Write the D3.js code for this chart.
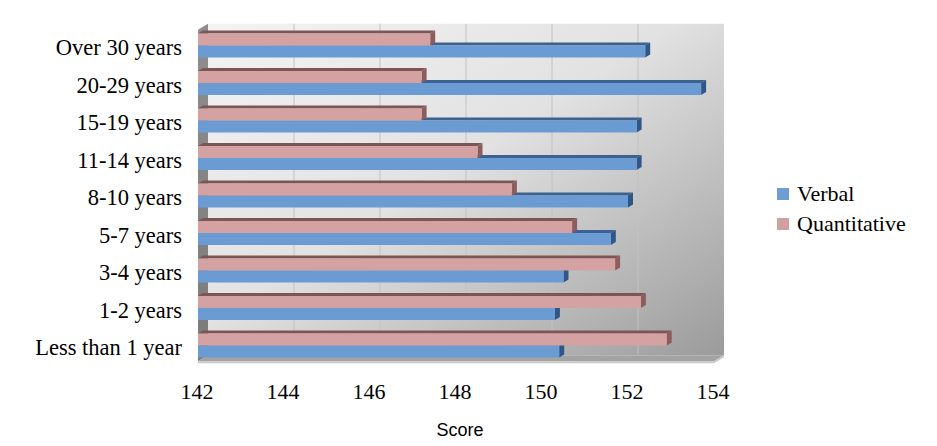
<!DOCTYPE html>
<html>
<head>
<meta charset="utf-8">
<script src="https://cdn.jsdelivr.net/npm/d3@7"></script>
<style>
  body { margin: 0; background: #fff; }
  svg { display: block; }
</style>
</head>
<body>
<div id="chart"></div>
<script>
// data, top row first
const categories = ["Over 30 years", "20-29 years", "15-19 years", "11-14 years", "8-10 years",
                    "5-7 years", "3-4 years", "1-2 years", "Less than 1 year"]
const verbal       = [152.4, 153.7, 152.2, 152.2, 152.0, 151.6, 150.5, 150.3, 150.4]
const quantitative = [147.4, 147.2, 147.2, 148.5, 149.3, 150.7, 151.7, 152.3, 152.9]
const seriesNames = ["Quantitative", "Verbal"]   // drawn order inside a row (top to bottom)
const legendNames = ["Verbal", "Quantitative"]
const xTicks = [142, 144, 146, 148, 150, 152, 154]
const xTitle = "Score"

const WIDTH = 937
const HEIGHT = 446
const SERIF = "'Liberation Serif', 'Times New Roman', serif"
const SANS = "'Liberation Sans', Arial, sans-serif"

// 3d offsets
const WALL_DX = 10, WALL_DY = -6
const BAR_DX = 5, BAR_DY = -3

const colors = {
  Verbal:       { front: "#6b9bd3", top: "#3d6190", side: "#2f5686", legend: "#6d9dd3" },
  Quantitative: { front: "#d4a2a2", top: "#7c5555", side: "#8d5c5c", legend: "#d0a0a0" }
}

const svg = d3.select("#chart").append("svg")
  .attr("width", WIDTH)
  .attr("height", HEIGHT)

const x = d3.scaleLinear().domain([142, 154]).range([198, 714])
const y = d3.scaleBand().domain(categories).range([29.75, 361.25])
  .paddingInner(0.36).paddingOuter(0.1)
const ySub = d3.scaleBand().domain(seriesNames).range([0, y.bandwidth()])

const plotTop = y.range()[0], plotBottom = y.range()[1]

const defs = svg.append("defs")
const wallGrad = defs.append("linearGradient").attr("id", "wallGrad")
  .attr("x1", 0).attr("y1", 0).attr("x2", 1).attr("y2", 1)
wallGrad.append("stop").attr("offset", 0).attr("stop-color", "#f3f3f3")
wallGrad.append("stop").attr("offset", 0.45).attr("stop-color", "#e2e2e2")
wallGrad.append("stop").attr("offset", 1).attr("stop-color", "#9b9b9b")

const sideGrad = defs.append("linearGradient").attr("id", "sideGrad")
  .attr("x1", 0).attr("y1", 0).attr("x2", 0).attr("y2", 1)
sideGrad.append("stop").attr("offset", 0).attr("stop-color", "#8e8e8e")
sideGrad.append("stop").attr("offset", 1).attr("stop-color", "#7a7a7a")

const poly = pts => pts.map(p => p.join(",")).join(" ")

// back wall
const x0 = x.range()[0], x1 = x.range()[1]
svg.append("polygon")
  .attr("points", poly([[x0 + WALL_DX, plotTop + WALL_DY], [x1 + WALL_DX, plotTop + WALL_DY],
                        [x1 + WALL_DX, plotBottom + WALL_DY], [x0 + WALL_DX, plotBottom + WALL_DY]]))
  .attr("fill", "url(#wallGrad)")

// gridlines on back wall
svg.append("g")
  .selectAll("line")
  .data(xTicks.slice(1, -1))
  .join("line")
    .attr("x1", d => x(d) + WALL_DX)
    .attr("x2", d => x(d) + WALL_DX)
    .attr("y1", plotTop + WALL_DY)
    .attr("y2", plotBottom + WALL_DY)
    .attr("stroke", "#c2c2c2")
    .attr("stroke-width", 1)

// left side wall
svg.append("polygon")
  .attr("points", poly([[x0, plotTop], [x0 + WALL_DX, plotTop + WALL_DY],
                        [x0 + WALL_DX, plotBottom + WALL_DY], [x0, plotBottom]]))
  .attr("fill", "url(#sideGrad)")

// floor
svg.append("polygon")
  .attr("points", poly([[x0, plotBottom], [x0 + WALL_DX, plotBottom + WALL_DY],
                        [x1 + WALL_DX, plotBottom + WALL_DY], [x1, plotBottom]]))
  .attr("fill", "#a3a3a3")
svg.append("polygon")
  .attr("points", poly([[x0, plotBottom], [x1, plotBottom], [x1 + WALL_DX, plotBottom + WALL_DY],
                        [x1 + WALL_DX, plotBottom + WALL_DY + 2], [x1, plotBottom + 2], [x0, plotBottom + 2]]))
  .attr("fill", "#c9c9c9")

// bars
const rows = categories.map((c, i) => ({
  category: c,
  values: { Verbal: verbal[i], Quantitative: quantitative[i] }
}))

const barData = []
rows.forEach(r => {
  // verbal first so the quantitative bar sits on top of its top face
  ["Verbal", "Quantitative"].forEach(s => {
    barData.push({ category: r.category, series: s, value: r.values[s] })
  })
})

const bars = svg.append("g")
  .selectAll("g")
  .data(barData)
  .join("g")

bars.each(function(d) {
  const g = d3.select(this)
  const bx0 = x(142)
  const bx1 = x(d.value)
  const by = y(d.category) + ySub(d.series)
  const bh = ySub.bandwidth()
  const c = colors[d.series]

  g.append("polygon")
    .attr("points", poly([[bx0, by], [bx0 + BAR_DX, by + BAR_DY], [bx1 + BAR_DX, by + BAR_DY], [bx1, by]]))
    .attr("fill", c.top)
  g.append("polygon")
    .attr("points", poly([[bx1, by], [bx1 + BAR_DX, by + BAR_DY], [bx1 + BAR_DX, by + bh + BAR_DY], [bx1, by + bh]]))
    .attr("fill", c.side)
  g.append("rect")
    .attr("x", bx0)
    .attr("y", by)
    .attr("width", bx1 - bx0)
    .attr("height", bh)
    .attr("fill", c.front)
})

// x axis labels
const xAxis = svg.append("g")
  .attr("transform", "translate(0,399)")
  .call(d3.axisBottom(x).tickValues(xTicks).tickSize(0).tickFormat(d3.format("d")))
xAxis.select(".domain").remove()
xAxis.selectAll("text")
  .attr("y", 0)
  .attr("dy", null)
  .attr("font-family", SERIF)
  .attr("font-size", 22)
  .attr("fill", "#000")
xAxis.selectAll(".tick").attr("transform", d => `translate(${x(d) - 1},0)`)

// y axis labels
const yAxis = svg.append("g")
  .attr("transform", "translate(182,0)")
  .call(d3.axisLeft(y).tickSize(0).tickPadding(0))
yAxis.select(".domain").remove()
yAxis.selectAll("text")
  .attr("dy", "0.43em")
  .attr("font-family", SERIF)
  .attr("font-size", 22.5)
  .attr("fill", "#000")

// axis title
svg.append("text")
  .attr("x", 460)
  .attr("y", 436)
  .attr("text-anchor", "middle")
  .attr("font-family", SANS)
  .attr("font-size", 18)
  .text(xTitle)

// legend
const legend = svg.append("g").attr("transform", "translate(777,188)")
const item = legend.selectAll("g")
  .data(legendNames)
  .join("g")
    .attr("transform", (d, i) => `translate(0,${i * 30})`)
item.append("rect")
  .attr("width", 12)
  .attr("height", 12)
  .attr("fill", d => colors[d].legend)
item.append("text")
  .attr("x", 20)
  .attr("y", 12.5)
  .attr("font-family", SERIF)
  .attr("font-size", 22)
  .text(d => d)
</script>
</body>
</html>
